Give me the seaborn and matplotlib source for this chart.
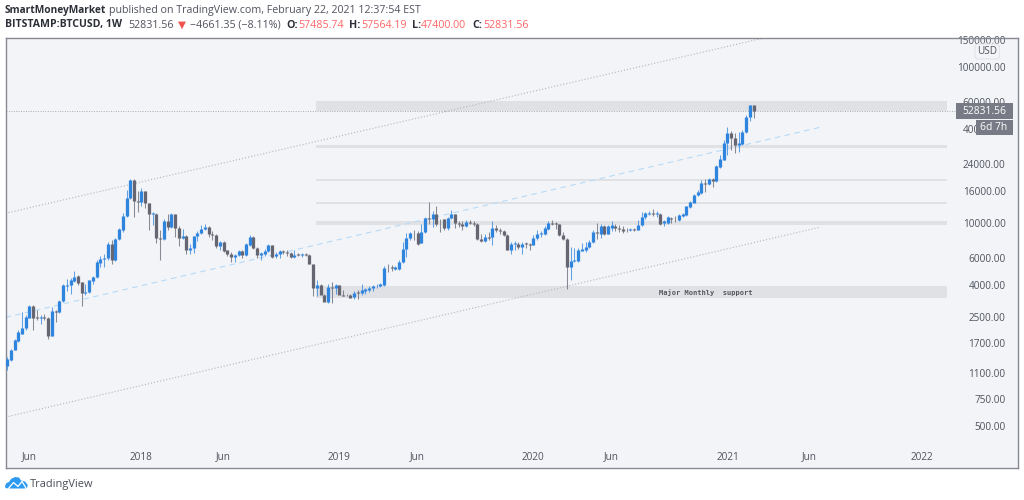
import numpy as np
import pandas as pd
import matplotlib
matplotlib.use('Agg')
import matplotlib.pyplot as plt
import matplotlib.dates as mdates
import seaborn as sns
from matplotlib.patches import Rectangle, FancyBboxPatch, Polygon
from matplotlib.lines import Line2D

# ---------- data (weekly BTCUSD candles) ----------
first_week = '2017-04-24'
open_ = [1220,1320,1530,1760,1960,2140,2480,2940,2500,2460,2500,2480,1890,2740,2700,3180,3980,4000,4270,4570,
 4170,3580,3630,4290,4510,5570,5910,5970,7330,5790,7970,9110,11200,14500,18900,13900,13600,16000,13400,11400,
 11500,8050,7940,10400,9470,11400,9380,8050,8340,6750,6910,8250,8670,9200,9520,8590,8460,7190,7630,6710,
 6390,6050,6240,6680,6270,7260,8170,6950,6240,6390,6650,7230,6140,6390,6610,6550,6490,6080,6330,6270,
 6330,6300,5490,3870,4040,3490,3120,3890,3870,4000,3460,3470,3470,3340,3610,3590,3700,3740,3850,3950,
 3970,4000,5200,5220,5100,5100,5620,6810,8050,8710,8710,7480,8800,10800,10600,11400,10100,10600,9380,10800,
 11400,10100,9950,9660,10200,10100,9950,7900,7700,8170,8130,9380,9110,8970,8420,6780,7330,7410,7050,7480,
 7410,7300,8050,8540,8500,9200,10100,10000,9850,8420,7940,5220,5710,5760,6680,6780,7020,7550,8840,8590,
 9570,8590,9380,9660,9330,9200,9110,9020,9200,9110,9710,10900,11500,11700,11500,11500,10000,10100,10800,10700,
 10500,11200,11300,12800,13500,15100,15700,18200,17900,19200,18700,23000,25600,32700,37900,35400,31800,32400,38300,47800,
 57485.74]
high = [1390,1570,1820,2060,2700,2570,2980,2980,2770,2570,2610,2510,2910,2770,3240,4100,4420,4480,4950,4640,
 4210,4060,4350,4570,5850,6140,6390,7590,7780,8050,9380,11600,16400,19200,19100,16100,16900,16100,13500,11800,
 11600,9020,10600,11500,11600,11500,9570,9240,8420,7330,8340,8890,9710,9950,9570,8890,8590,7700,7700,6780,
 6550,6390,6780,6780,7480,8460,8250,7050,6550,6880,7330,7300,6550,6780,6780,6710,6580,6710,6420,6450,
 6450,6390,5510,4310,4100,3510,4100,4210,4100,4040,3720,3540,3540,3670,3720,4100,3870,3950,4040,4060,
 4140,5300,5460,5380,5330,5790,7590,8670,8800,9020,8930,9950,11000,13700,12000,13000,10700,10700,11000,12100,
 11500,10400,10400,10500,10500,10400,10000,8590,8590,8800,10400,9710,9380,9110,8500,7590,7670,7590,7590,7590,
 7480,8380,9020,8930,9570,10400,10500,10200,9950,8800,8010,7050,6980,6980,7480,7590,7780,9020,10000,9850,
 9710,9710,10400,9950,9710,9570,9380,9380,9380,10500,11800,11800,12000,12400,12000,11600,10500,11100,11000,11100,
 11400,11600,13000,13900,15500,16300,18900,19100,19600,19600,23500,27300,34400,41400,39100,37900,38300,39500,49200,57600,
 57564.19]
low = [1140,1310,1530,1740,1940,2080,2450,2080,2390,2250,2410,1810,1890,2330,2640,3130,3680,3540,4210,4000,
 2940,3460,3580,4100,4460,5250,5250,5850,5510,5740,7860,8800,11000,14400,11000,11800,12900,12600,9020,9710,
 7480,5850,7860,9020,9380,8170,7190,7970,6330,6390,6450,7700,8590,9020,8170,7780,6980,6780,6580,6140,
 5650,5680,6140,5970,6200,7190,6850,6020,5790,6140,6550,6020,5970,6020,6390,6140,5970,6020,6140,6080,
 6140,5460,3400,3400,3540,3160,3090,3100,3510,3720,3400,3400,3370,3290,3290,3460,3540,3630,3650,3870,
 3910,3970,4850,4920,5000,5000,5570,6080,7780,7860,7300,7480,8710,9950,9470,9570,8800,9020,9110,10700,
 9380,9470,9110,9470,9850,9570,7780,7590,7590,7780,7230,8800,8590,8250,6710,6390,6780,6880,6390,6980,
 6710,7230,7860,8170,8380,9020,9710,9240,8290,7780,3790,4350,5650,5650,6610,6550,6950,7480,7970,8090,
 8460,8500,8930,8930,8800,8670,8840,8930,8930,9020,9570,10700,11300,11100,10900,9710,9570,9950,10000,10200,
 10400,11000,11100,12600,14900,14900,15500,15900,17700,17100,18500,22700,25300,27300,29700,28200,28700,31600,37900,45300,
 47400.00]
close = [1340,1530,1780,2010,2140,2510,2940,2450,2460,2510,2460,1890,2730,2700,3180,4000,4040,4310,4530,4140,
 3580,3630,4310,4510,5620,5940,6020,7330,5790,7970,9200,11200,14500,18900,13900,13700,16000,13400,11400,11600,
 8010,7970,10400,9470,11400,9380,8050,8340,6780,6910,8250,8710,9240,9520,8540,8460,7190,7590,6650,6390,
 6050,6270,6680,6270,7330,8130,6950,6240,6420,6680,7230,6080,6390,6680,6550,6450,6080,6270,6270,6330,
 6270,5460,3870,4040,3460,3120,3910,3830,4000,3440,3420,3440,3320,3590,3580,3720,3760,3870,3950,3980,
 4060,5200,5150,5150,5220,5680,6880,8090,8670,8630,7410,8840,10800,10600,11400,9950,10000,9380,10800,11400,
 10100,9950,9660,10200,10100,9950,7900,7700,8210,8090,9380,9110,8930,8380,6780,7410,7480,7050,7410,7330,
 7300,8090,8590,8710,9290,10100,9950,9850,8420,7900,5250,5760,5820,6710,6810,7050,7630,8840,8670,9570,
 8540,9570,9710,9290,9200,8970,9020,9150,9060,9810,11000,11600,11700,11500,11600,9950,10300,10900,10700,10600,
 11300,11400,12900,13600,15300,15900,18200,18000,19100,18800,23200,25800,32900,37900,35100,31800,32900,38500,48000,57100,
 52831.56]

price_ticks = [150000, 100000, 60000, 40000, 24000, 16000, 10000, 6000, 4000, 2500, 1700, 1100, 750, 500]
time_ticks = ['2017-06-05','2018-01-01','2018-06-04','2019-01-07','2019-06-03','2020-01-06',
              '2020-06-01','2021-01-04','2021-06-07','2022-01-03']
time_labels = ['Jun','2018','Jun','2019','Jun','2020','Jun','2021','Jun','2022']

zones_low  = [52800, 30250, 18590, 13300, 9710, 3320]
zones_high = [60600, 31600, 19290, 13740, 10340, 3945]
zone_start, zone_end = '2018-11-24', '2022-02-20'

upper_dates, upper_prices = ['2017-04-21', '2021-03-15'], [11590, 155000]
middle_dates, middle_prices = ['2017-04-21', '2021-06-26'], [2490, 41250]
lower_dates, lower_prices = ['2017-04-21', '2021-06-26'], [570, 9427]
last_price = 52831.56
last_dates = ['2017-04-21', '2022-03-15']

# ---------- style ----------
sns.set_theme(style='white')
BG = '#f3f4f7'; FRAME = '#868993'; UP = '#2f84de'; DOWN = '#666672'; TXT = '#50535e'; RED = '#f66'
plt.rcParams['font.family'] = ['Open Sans', 'DejaVu Sans']
plt.rcParams['lines.solid_capstyle'] = 'butt'

W, H = 1024, 500
fig = plt.figure(figsize=(W / 100, H / 100), dpi=100, facecolor='white')
L, R, T, B = 5.5, 1017.5, 37.5, 468
ax = fig.add_axes([L / W, 1 - B / H, (R - L) / W, (B - T) / H], facecolor=BG)
ax.set_yscale('log')

weeks = pd.date_range(first_week, periods=len(close), freq='7D')
c = pd.DataFrame({'date': weeks, 'open': open_, 'high': high, 'low': low, 'close': close})
c['week'] = np.arange(len(c))
c['up'] = c['close'] >= c['open']
pal = {True: UP, False: DOWN}

# zones
zstart, zend = mdates.datestr2num(zone_start), mdates.datestr2num(zone_end)
for lo_, hi_ in zip(zones_low, zones_high):
    ax.add_patch(Rectangle((zstart, lo_), zend - zstart, hi_ - lo_, fc='#e0e1e4', ec='none', zorder=1))

# guide lines
def guide(dates, prices, color, ls, lw):
    d = pd.DataFrame({'date': pd.to_datetime(dates), 'price': prices})
    sns.lineplot(data=d, x='date', y='price', ax=ax, color=color, lw=lw, ls=ls, zorder=1.5, legend=False)
guide(upper_dates, upper_prices, '#b4b6bd', (0, (1, 1.8)), 0.8)
guide(lower_dates, lower_prices, '#b4b6bd', (0, (1, 1.8)), 0.8)
guide(middle_dates, middle_prices, '#b5daf8', (0, (5, 4)), 0.8)
guide(last_dates, [last_price, last_price], '#a9abb3', (0, (1, 1.5)), 0.7)

# candles
wick = c.melt(id_vars=['date', 'week', 'up'], value_vars=['high', 'low'], value_name='price')
body = c.melt(id_vars=['date', 'week', 'up'], value_vars=['open', 'close'], value_name='price')
sns.lineplot(data=wick, x='date', y='price', units='week', estimator=None, hue='up', palette=pal,
             ax=ax, lw=0.75, alpha=0.75, legend=False, sort=False, zorder=3)
sns.lineplot(data=body, x='date', y='price', units='week', estimator=None, hue='up', palette=pal,
             ax=ax, lw=2.35, legend=False, sort=False, zorder=4)

ax.set_xlim(mdates.datestr2num('2017-04-21'), mdates.datestr2num('2022-07-02'))
ax.set_ylim(268.8, 155700)
ax.set_xlabel(''); ax.set_ylabel('')
ax.grid(False)
for s in ax.spines.values():
    s.set_color(FRAME); s.set_linewidth(1.0)

ax.minorticks_off()
ax.yaxis.tick_right()
ax.set_yticks(price_ticks)
ax.set_yticklabels([f'{v:.2f}' for v in price_ticks], ha='right', color=TXT, fontsize=7.2)
ax.tick_params(axis='y', which='both', length=0, pad=-8.5)
ax.tick_params(axis='y', which='minor', labelright=False)
ax.set_xticks(mdates.datestr2num(time_ticks))
ax.set_xticklabels(time_labels, color=TXT, fontsize=7.2)
ax.tick_params(axis='x', length=0, pad=-11.8)

ax.text(mdates.datestr2num('2020-11-24'), 3600, 'Major Monthly  support', ha='center', va='center',
        family='DejaVu Sans Mono', fontweight='bold', fontsize=5.0, color='#55565f', zorder=5)

# figure-level texts and badges
def tx(x, y, s, **kw):
    kw.setdefault('color', '#50535e'); kw.setdefault('fontsize', 7.65)
    fig.text(x / W, 1 - y / H, s, va='center', ha=kw.pop('ha', 'left'), **kw)

DARK = '#2c2f38'
tx(5, 10.5, 'SmartMoneyMarket', color=DARK, fontweight='bold', fontsize=7.3)
tx(109, 10.5, 'published on TradingView.com, February 22, 2021 12:37:54 EST')
tx(5, 25, 'BITSTAMP:BTCUSD, 1W', color=DARK, fontweight='bold', fontsize=7.6)
tx(128, 25, '52831.56')
tx(177.5, 25, '▼', color='#ef5350', fontsize=7.5, family='DejaVu Sans')
tx(190, 25, '−4661.35 (−8.11%)')
for x, s in ((286, 'O:'), (349, 'H:'), (412, 'L:'), (472, 'C:')):
    tx(x, 25, s, color=DARK, fontweight='bold')
for x, s in ((298, '57485.74'), (361, '57564.19'), (421, '47400.00'), (483, '52831.56')):
    tx(x, 25, s, color=RED)

def px_rect(x0, y0, x1, y1, **kw):
    fig.add_artist(Rectangle((x0 / W, 1 - y1 / H), (x1 - x0) / W, (y1 - y0) / H,
                             transform=fig.transFigure, **kw))

px_rect(955.5, 103, 1012.7, 119, fc='#787b86', ec='none', zorder=6)
px_rect(976, 119.6, 1012.7, 135, fc='#787b86', ec='none', zorder=6)
fig.text(984 / W, 1 - 111 / H, '52831.56', color='white', fontsize=7.4, ha='center', va='center', zorder=7)
fig.text(994 / W, 1 - 127.5 / H, '6d 7h', color='white', fontsize=7.4, ha='center', va='center', zorder=7)
fig.add_artist(FancyBboxPatch((975 / W, 1 - 59 / H), 24.5 / W, 15 / H, transform=fig.transFigure,
                              boxstyle='round,pad=0,rounding_size=0.003', mutation_aspect=2.05,
                              fc=BG, ec='#e3e4e8', lw=0.8, zorder=6))
fig.text(987 / W, 1 - 51.5 / H, 'USD', color=TXT, fontsize=7.2, ha='center', va='center', zorder=7)

# logo
cloud = [(5, 486), (6.5, 483), (9, 482), (11, 479), (15, 477), (19, 477.5), (21, 480.5), (25, 481.5),
         (27.8, 485), (27, 488), (24, 488.5), (8, 488.5), (5.5, 488)]
fig.add_artist(Polygon([(x / W, 1 - y / H) for x, y in cloud], closed=True, transform=fig.transFigure,
                       fc='#2e9bf0', ec='none'))
zig = [(8, 489), (13.5, 482.5), (18, 486.5), (22, 481.5), (26, 488)]
fig.add_artist(Line2D([x / W for x, y in zig], [1 - y / H for x, y in zig], transform=fig.transFigure,
                      color='white', lw=0.9))
tx(29.5, 484, 'TradingView', color='#4a4d57', fontsize=7.9)

fig.savefig('out.png', dpi=100)
